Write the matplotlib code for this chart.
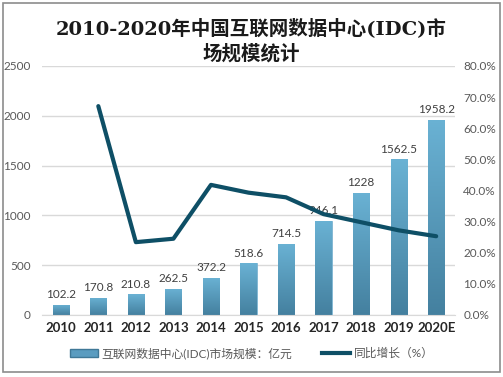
import matplotlib
matplotlib.use("Agg")
import matplotlib.pyplot as plt
import matplotlib.patches as mpatches
from matplotlib.lines import Line2D
import numpy as np

plt.rcParams['font.family'] = ['Lato', 'Noto Sans CJK SC', 'DejaVu Sans']

years = ["2010", "2011", "2012", "2013", "2014", "2015", "2016", "2017", "2018", "2019", "2020E"]
scale = [102.2, 170.8, 210.8, 262.5, 372.2, 518.6, 714.5, 946.1, 1228, 1562.5, 1958.2]
growth_years = ["2011", "2012", "2013", "2014", "2015", "2016", "2017", "2018", "2019", "2020E"]
growth = [67.1, 23.4, 24.5, 41.8, 39.3, 37.8, 32.4, 29.8, 27.2, 25.3]

fig = plt.figure(figsize=(5.03, 3.77), dpi=100)
fig.patch.set_facecolor("white")
fig.add_artist(mpatches.Rectangle((0.006, 0.013), 0.988, 0.979, transform=fig.transFigure,
                                  fill=False, edgecolor="#8c8c8c", linewidth=1.2))

ax = fig.add_axes([0.0835, 0.1645, 0.821, 0.6605])
x = np.arange(len(years))
bars = ax.bar(x, scale, width=0.43, color="#5a9cc0", edgecolor="#7fb6d3", linewidth=0.6, zorder=2)

# vertical gradient in each bar
grad = np.linspace(1, 0, 256).reshape(-1, 1)
cmap = matplotlib.colors.LinearSegmentedColormap.from_list("g", ["#44809f", "#6ab2d4"])
for b in bars:
    bx, by = b.get_x(), b.get_y()
    im = ax.imshow(grad, extent=[bx, bx + b.get_width(), by, by + b.get_height()],
                   aspect="auto", cmap=cmap, zorder=2.5, origin="upper")
    im.set_clip_path(b)

for xi, v in zip(x, scale):
    ax.text(xi, v + 45, f"{v:g}", ha="center", va="bottom", fontsize=8.5, color="#404040")

ax.set_xlim(-0.5, 10.5)
ax.set_ylim(0, 2500)
ax.set_yticks(range(0, 2501, 500))
ax.set_xticks(x)
ax.set_xticklabels(years, fontweight="bold", fontsize=9.5, color="#262626")
ax.tick_params(axis="y", labelsize=8.5, colors="#595959", length=0, pad=8)
ax.tick_params(axis="x", length=0, pad=5)
ax.grid(axis="y", color="#d9d9d9", linewidth=1, zorder=0)
ax.set_axisbelow(True)
for s in ["left", "right", "top"]:
    ax.spines[s].set_visible(False)
ax.spines["bottom"].set_color("#d9d9d9")

ax2 = ax.twinx()
gx = [years.index(y) for y in growth_years]
ax2.plot(gx, growth, color="#0e4f66", linewidth=3, solid_joinstyle="round",
         solid_capstyle="round", zorder=5)
ax2.set_ylim(0, 80)
ax2.set_yticks(range(0, 81, 10))
ax2.set_yticklabels([f"{t:.1f}%" for t in range(0, 81, 10)])
ax2.tick_params(axis="y", labelsize=8.5, colors="#595959", length=0, pad=6)
for s in ax2.spines.values():
    s.set_visible(False)

title_font = ['DejaVu Serif', 'Noto Sans CJK SC']
fig.text(0.500, 0.925, "2010-2020年中国互联网数据中心(IDC)市", ha="center", va="center",
         fontsize=14, fontweight="bold", color="#1a1a1a", family=title_font)
fig.text(0.500, 0.858, "场规模统计", ha="center", va="center",
         fontsize=14, fontweight="bold", color="#1a1a1a", family=title_font)

handles = [mpatches.Patch(facecolor="#5a9cc0", edgecolor="#3f7897"),
           Line2D([0], [0], color="#0e4f66", linewidth=3)]
labels = ["互联网数据中心(IDC)市场规模：亿元", "同比增长（%）"]
fig.legend(handles, labels, loc="center", bbox_to_anchor=(0.5, 0.063), ncol=2, frameon=False,
           fontsize=8.5, handlelength=2.4, handleheight=0.7, columnspacing=2.5,
           labelcolor="#595959", handletextpad=0.3)

fig.savefig("out.png", dpi=100)
